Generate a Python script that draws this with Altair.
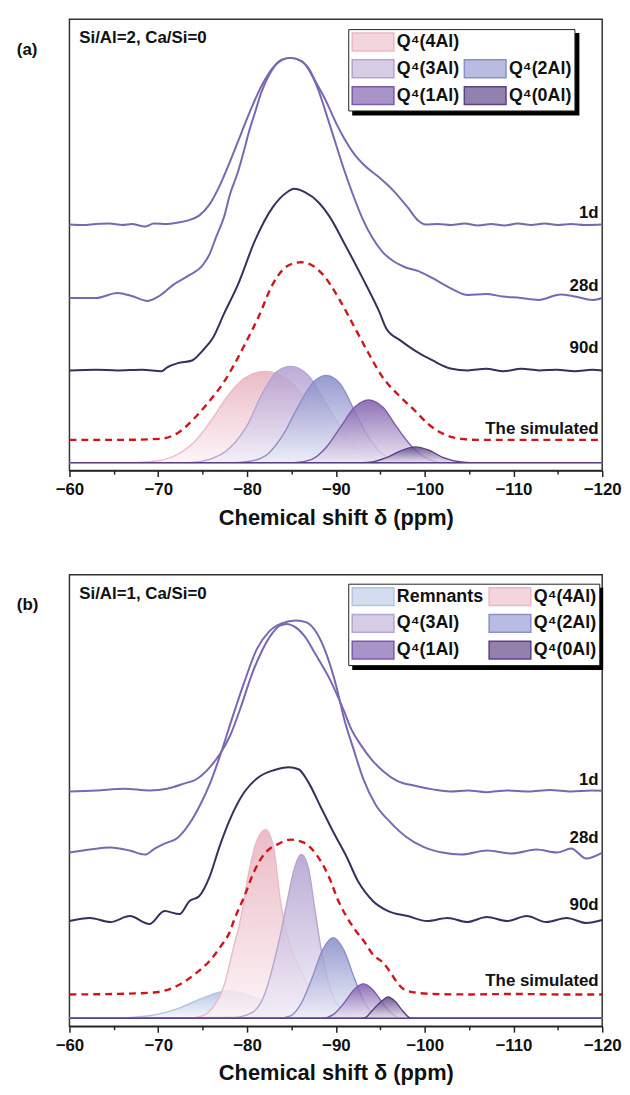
import altair as alt
import pandas as pd

FONT = "Liberation Sans"

# ---------------- (a) Si/Al=2, Ca/Si=0 ----------------
A_1D_PPM = [-60, -61.5, -63, -64.5, -66, -67, -68.5, -69.5, -71, -72.2, -73.3, -74.6, -75.8, -77, -78.1,
            -79.3, -80.5, -81.7, -82.9, -83.9, -84.9, -86.1, -86.9, -87.7, -88.9, -90.1, -90.9, -92.1,
            -93.3, -94.9, -96.5, -98.1, -99.3, -100.1, -101.5, -103, -104.5, -106, -107.5, -109, -110.5,
            -112, -113.5, -115, -116.5, -118, -120]
A_1D_INT = [248, 247.5, 248.5, 249, 247.5, 248.5, 246, 249, 248.5, 250, 252, 257, 268.6, 288.7, 312,
            339, 365.7, 389, 406, 414.3, 416, 412.6, 406, 392.5, 372.4, 349, 335.6, 318.8,
            307, 295.4, 282, 265.2, 251.8, 248, 248.5, 247.5, 249, 247, 248.5, 247, 249,
            247.5, 249, 247.5, 248.5, 247.5, 248]

A_28D_PPM = [-60, -63, -65.4, -67, -68.8, -70.2, -71.8, -73.4, -75, -75.8, -76.5, -77.4, -78.1, -78.9,
             -79.7, -80.2, -80.9, -81.6, -82.5, -83.6, -84.9, -86.1, -87.7, -89.3, -90.9, -92.1, -93,
             -94.1, -95.3, -96.5, -97.8, -99.3, -100.9, -102.9, -104.9, -106.9, -108.8, -110.8, -112.8,
             -115.3, -116.9, -118.9, -120]
A_28D_INT = [174, 174, 179, 176, 171, 176.5, 188, 196.5, 207, 218.5, 235, 255.5, 279, 299,
             324, 341, 361, 381, 399, 412, 416, 413, 391, 349, 304, 274, 254,
             235, 220, 211, 205, 201, 194, 184, 177, 178, 175.5, 174, 172,
             177.5, 175.5, 172, 174]

A_90D_PPM = [-60, -63, -65.4, -68.2, -70.4, -71, -72.2, -73.8, -75, -76.2, -77.4, -79, -80.9, -82.9,
             -84.5, -85.3, -86.5, -88.1, -89.3, -90.9, -92.9, -94.9, -95.7, -97.3, -98.9, -100.9,
             -102.9, -104.9, -106.9, -108.9, -110.9, -112.9, -114.9, -116.9, -118.9, -120]
A_90D_INT = [101, 101.6, 101, 101.6, 100.2, 104, 108.3, 111, 121, 134.5, 158, 188, 232, 265.5,
             280.6, 284, 280.6, 270, 256, 230, 196, 160, 143, 131, 121, 111,
             103, 101, 102.6, 100.2, 102.6, 101, 101.6, 100.2, 101.6, 101]

A_SIM_PPM = [-60, -65.7, -70.2, -72.2, -74.2, -75.8, -77.3, -78.5, -79.8, -81.3, -82.9, -84.7, -86.1,
             -87.5, -88.5, -90.5, -92.1, -93.7, -95.2, -97.3, -98.9, -100.4, -102.1, -104.1, -105.9, -120]
A_SIM_INT = [31, 31, 32, 38, 54, 70.5, 88, 106, 128, 155, 188, 207, 210,
             206, 198, 171, 144.5, 118, 95, 74, 60.4, 47, 37, 32, 31, 31]

A_Q4_4AL_PPM = [-60, -67, -69.8, -72.2, -74.2, -76.2, -77.8, -79.7, -82.1, -84.5, -86.1, -87.7, -89.3,
                -90.9, -92.9, -94.9, -120]
A_Q4_4AL_INT = [8, 8, 9.7, 16.5, 30, 53.6, 75, 93, 100, 92, 78, 56, 36.7, 21.5, 11.4, 8, 8]
A_Q4_3AL_PPM = [-60, -73.4, -75.8, -78.1, -80.1, -81.7, -83.3, -84.9, -86.9, -88.5, -90.1, -91.7,
                -93.7, -95.7, -120]
A_Q4_3AL_INT = [8, 8, 11.4, 23.2, 46.9, 77.3, 99.3, 105, 95.9, 73.9, 50.2, 30, 14.8, 8, 8]
A_Q4_2AL_PPM = [-60, -78.5, -80.5, -82.5, -84.1, -85.7, -87.3, -88.9, -90.5, -92.1, -93.7, -95.3,
                -97.3, -99.3, -120]
A_Q4_2AL_INT = [8, 8, 9.7, 18.1, 36.7, 63.8, 87.4, 95.9, 87.4, 60.4, 33.4, 16.5, 9.7, 8, 8]
A_Q4_1AL_PPM = [-60, -85.3, -87.3, -88.9, -90.5, -92.1, -93.7, -95.3, -96.9, -98.5, -100.1, -102.1, -120]
A_Q4_1AL_INT = [8, 8, 11.4, 23.2, 43.5, 63.8, 71.2, 63.8, 43.5, 24.9, 13.1, 8, 8]
A_Q4_0AL_PPM = [-60, -93, -94.1, -95.7, -97.3, -98.9, -100.5, -102.1, -104.1, -105.3, -120]
A_Q4_0AL_INT = [8, 8, 8.7, 13.1, 19.8, 23.9, 20.5, 13.1, 8.7, 8, 8]

# ---------------- (b) Si/Al=1, Ca/Si=0 ----------------
B_1D_PPM = [-60, -63, -66.2, -69, -71, -73, -74.2, -75.8, -77, -78.1, -79.3, -80.5, -81.7, -82.9, -83.7,
            -84.5, -85.3, -86.5, -87.7, -89.3, -90.9, -91.7, -92.9, -94.1, -95.3, -96.9, -98.9, -100.9,
            -102.9, -104.9, -106.9, -109.3, -111.7, -114.1, -116.5, -118.8, -120]
B_1D_INT = [236.6, 237.6, 239.4, 237.6, 239.4, 244.8, 248.4, 260.9, 275.1, 293, 321.6, 353.7, 378.7,
            396.6, 403.7, 405.5, 403, 393, 375.1, 350.1, 318, 300.1, 282.3, 268, 257.3, 247.3, 242.3,
            238.7, 236.6, 237.6, 235.9, 237.6, 236.6, 238, 236.6, 237.6, 237.3]

B_28D_PPM = [-60, -62.3, -64.6, -66.8, -68.5, -69.6, -70.7, -72.2, -73.5, -74.6, -75.8, -76.9, -78.2,
             -79.7, -81.1, -82.5, -83.9, -85.5, -86.7, -87.8, -88.9, -90.1, -90.9, -92, -93.1, -94.5,
             -96.1, -97.9, -99.8, -102, -104.2, -107, -109.8, -112.6, -114.9, -116.5, -118.2, -120]
B_28D_INT = [175, 178, 180, 177, 173, 179, 184, 190, 204, 221, 244, 271, 307,
             347, 380, 398, 406, 409, 407, 397, 376, 341, 311, 279, 249, 223,
             206, 191, 181, 175, 173, 177, 174, 178, 175, 179, 169, 175]

B_90D_PPM = [-60, -62.3, -64.6, -66.8, -69, -70.7, -72.4, -73.5, -74.6, -75.8, -76.9, -78.2, -79.7,
             -81.3, -83, -84.7, -85.8, -86.9, -88.3, -89.7, -91.2, -92.5, -94.2, -95.9, -98.1, -100.3,
             -102.6, -104.8, -107, -109.3, -111.5, -113.7, -116, -118.2, -120]
B_90D_INT = [106, 109, 105, 111, 103, 116, 113, 126, 131, 151, 181, 211, 236,
             251, 258, 261, 259, 246, 221, 196, 171, 146, 126, 116, 111, 106,
             109, 105, 110, 106, 111, 105, 109, 104, 107]

B_SIM_PPM = [-60, -65, -69.5, -72.2, -74.2, -75.8, -77, -78.1, -78.5, -79.7, -80.8, -81.9, -83.6, -84.9,
             -86.4, -87.8, -89.2, -90.3, -91.3, -92.1, -93.3, -94.1, -95.3, -96.1, -96.9, -97.7, -98.9,
             -101, -105, -110, -115, -120]
B_SIM_INT = [32, 32.5, 34, 41, 53, 66, 80, 96, 106, 131, 156, 173, 184, 188,
             185, 173, 151, 126, 109, 98, 84, 73, 64, 55, 44, 37, 34,
             32.5, 32, 32.5, 32, 32]

B_REM_PPM = [-60, -65, -69, -72.2, -75, -77.8, -80.6, -82.9, -85.3, -87.7, -120]
B_REM_INT = [8, 8, 10.5, 17.7, 28.3, 35.5, 30.1, 21.2, 12.3, 8, 8]
B_Q4_4AL_PPM = [-60, -73.5, -75, -76.2, -77.4, -78.5, -79.3, -80.2, -81.1, -82.1, -83, -83.7, -84.3,
                -84.9, -85.7, -86.5, -87.7, -89.3, -90.9, -120]
B_Q4_4AL_INT = [8, 8, 10.5, 19.4, 40.8, 80, 109, 155, 187, 198, 180, 130, 100, 80, 62, 48, 27, 12.3, 8, 8]
B_Q4_3AL_PPM = [-60, -78.5, -80.6, -82.1, -82.9, -83.7, -84.5, -85.3, -86.1, -86.9, -87.6, -88.3, -89,
                -89.7, -91.3, -92.9, -120]
B_Q4_3AL_INT = [8, 8.7, 14, 35, 60, 90, 125, 158, 173, 160, 120, 80, 50, 30, 13, 8, 8]
B_Q4_2AL_PPM = [-60, -83.5, -84.9, -86.1, -87.3, -88.5, -89.7, -90.9, -92.1, -93.3, -94.5, -95.7, -120]
B_Q4_2AL_INT = [8, 8, 10.5, 23, 48, 76.6, 89.1, 76.6, 48, 23, 10.5, 8, 8]
B_Q4_1AL_PPM = [-60, -88.5, -89.7, -90.9, -92.1, -93.1, -94.1, -95.3, -96.5, -97.3, -120]
B_Q4_1AL_INT = [8, 8, 11.6, 23, 37.3, 42.6, 37.3, 23, 11.6, 8, 8]
B_Q4_0AL_PPM = [-60, -92.5, -93.3, -94.1, -95.1, -95.9, -96.7, -97.5, -98.3, -99, -120]
B_Q4_0AL_INT = [8, 8, 8.7, 15.8, 24.8, 29.4, 24.8, 15.8, 8.7, 8, 8]

MAJOR_TICKS = [-60, -70, -80, -90, -100, -110, -120]
MINOR_TICKS = [-65, -75, -85, -95, -105, -115]

COMP_BASE = 8          # baseline of the deconvolved components
BLANK = " "            # empty legend cell

# name: (gradient top, gradient bottom, outline, legend swatch)
COMP_STYLE = {
    "Remnants": ("#a7bbdf", "#f3f6fb", "#b3c4e3", "#d3ddef"),
    "Q⁴(4Al)": ("#e6adbb", "#fcf2f5", "#ebb9c4", "#f3d6dd"),
    "Q⁴(3Al)": ("#ad9acd", "#f2eef8", "#b5a5d2", "#d6cce6"),
    "Q⁴(2Al)": ("#8186c4", "#eceef8", "#8a8fc9", "#b9bce0"),
    "Q⁴(1Al)": ("#7652a5", "#ebe4f2", "#7b5bab", "#a994c9"),
    "Q⁴(0Al)": ("#553a7f", "#e4deec", "#5c4187", "#9281ad"),
    BLANK: ("transparent", "transparent", "transparent", "transparent"),
}

LINE_LIGHT = "#7a67b2"
LINE_DARK = "#3b2d5d"
SIM_RED = "#d0141a"

X_SCALE = alt.Scale(domain=[-120, -60], reverse=True, nice=False, zero=False)
Y_SCALE = alt.Scale(domain=[0, 455], nice=False, zero=False)
W, H = 537, 455


def df(ppm, inten, **extra):
    d = pd.DataFrame({"ppm": ppm, "int": inten})
    for k, v in extra.items():
        d[k] = v
    return d


def x_enc(axis=None):
    return alt.X("ppm:Q", scale=X_SCALE, axis=axis)


def y_enc():
    return alt.Y("int:Q", scale=Y_SCALE, axis=None, stack=None)


major_axis = alt.Axis(values=MAJOR_TICKS, orient="bottom", tickSize=6, tickWidth=1.5, tickColor="#222",
                      domainColor="#222", domainWidth=1.5, labelFontSize=17, labelFontWeight="bold",
                      labelColor="#111", labelPadding=5, labelFlush=False, grid=False,
                      title="Chemical shift δ (ppm)", titleFontSize=22, titleFontWeight="bold",
                      titleColor="#111", titlePadding=10)
minor_axis = alt.Axis(values=MINOR_TICKS, orient="bottom", tickSize=3.5, tickWidth=1.5, tickColor="#222",
                      labels=False, domain=False, grid=False, title=None)


def component(name, ppm, inten):
    top, bottom, line, _ = COMP_STYLE[name]
    grad = alt.Gradient(gradient="linear",
                        stops=[alt.GradientStop(color=top, offset=0),
                               alt.GradientStop(color=bottom, offset=1)],
                        x1=0, x2=0, y1=0, y2=1)
    return alt.Chart(df(ppm, inten)).mark_area(
        interpolate="monotone", fill=grad, fillOpacity=0.82, stroke=line, strokeWidth=1.4
    ).encode(x=x_enc(), y=y_enc(), y2=alt.datum(COMP_BASE))


def spectrum(ppm, inten, color, dash=None, width=2.0):
    kw = dict(interpolate="monotone", color=color, strokeWidth=width)
    if dash:
        kw["strokeDash"] = dash
    return alt.Chart(df(ppm, inten)).mark_line(**kw).encode(x=x_enc(), y=y_enc())


def panel(tag, condition, comps, order, legend_pos, legend_box, lines, labels):
    # deconvolved components, each filled with its own vertical gradient
    layers = [component(n, p, i) for n, p, i in comps]

    # legend carrier: same components, invisible, colours through scales
    # (entries fill the two legend columns top to bottom)
    long = pd.concat([df(p, i, comp=n) for n, p, i in comps], ignore_index=True)
    leg = alt.Legend(title=None, orient="none", legendX=legend_pos[0], legendY=legend_pos[1], columns=2,
                     symbolType="M-1,-1H3.67V1H-1Z", symbolSize=324, symbolStrokeWidth=1.5,
                     symbolOpacity=1, labelFont=FONT, labelFontSize=18, labelFontWeight="bold",
                     labelColor="#111", labelOffset=26, columnPadding=2, rowPadding=3, padding=3,
                     strokeColor="#222", fillColor="white", zindex=2)
    layers.append(
        alt.Chart(long).mark_area(interpolate="monotone", opacity=0).encode(
            x=x_enc(), y=y_enc(), y2=alt.datum(COMP_BASE),
            fill=alt.Fill("comp:N", scale=alt.Scale(domain=order, range=[COMP_STYLE[n][3] for n in order]),
                          legend=leg),
            stroke=alt.Stroke("comp:N", scale=alt.Scale(domain=order, range=[COMP_STYLE[n][2] for n in order]),
                              legend=leg),
        )
    )

    # drop shadow of the legend frame: a single black block offset down-right
    # (legend only; the carrier layer draws no marks)
    bw, bh = legend_box
    shadow_path = f"M-1,-1H1V{-1 + 2 * bh / bw:.4f}H-1Z"
    shadow_leg = alt.Legend(title=None, orient="none", legendX=legend_pos[0] + 4, legendY=legend_pos[1] + 4,
                            symbolSize=bw * bw, symbolFillColor="#000", symbolStrokeColor="#000",
                            symbolStrokeWidth=0, symbolOpacity=1, labelExpr="''", labelOffset=0,
                            padding=0, zindex=1)
    layers.append(
        alt.Chart(long).transform_filter("false").transform_calculate(box="'frame'").mark_point(
            filled=True, color="#000", opacity=0, size=bw * bw
        ).encode(
            x=x_enc(), y=y_enc(),
            shape=alt.Shape("box:N", scale=alt.Scale(domain=["frame"], range=[shadow_path]), legend=shadow_leg),
        )
    )

    # measured spectra and the simulated envelope
    layers += lines

    # axes: major ticks with labels, minor ticks without
    layers.append(alt.Chart(df([-60, -120], [0, 0])).mark_point(opacity=0).encode(
        x=x_enc(major_axis), y=y_enc()))
    layers.append(alt.Chart(df([-60, -120], [0, 0])).mark_point(opacity=0).encode(
        x=x_enc(minor_axis), y=y_enc()))

    # series labels
    lab = pd.DataFrame(labels, columns=["ppm", "int", "text"])
    layers.append(alt.Chart(lab).mark_text(align="right", baseline="middle", font=FONT, fontSize=17,
                                           fontWeight="bold", color="#111").encode(
        x=x_enc(), y=y_enc(), text="text:N"))

    # sample composition
    layers.append(alt.Chart(pd.DataFrame({"ppm": [-61.1], "int": [436], "text": [condition]})).mark_text(
        align="left", baseline="middle", font=FONT, fontSize=17, fontWeight="bold", color="#111").encode(
        x=x_enc(), y=y_enc(), text="text:N"))

    # panel tag
    layers.append(alt.Chart(pd.DataFrame({"text": [tag]})).mark_text(
        align="left", baseline="middle", font=FONT, fontSize=17, fontWeight="bold", color="#111").encode(
        x=alt.value(-53), y=alt.value(31), text="text:N"))

    return alt.layer(*layers).resolve_axis(x="independent").properties(width=W, height=H)


panel_a = panel(
    "(a)", "Si/Al=2, Ca/Si=0",
    [("Q⁴(4Al)", A_Q4_4AL_PPM, A_Q4_4AL_INT),
     ("Q⁴(3Al)", A_Q4_3AL_PPM, A_Q4_3AL_INT),
     ("Q⁴(2Al)", A_Q4_2AL_PPM, A_Q4_2AL_INT),
     ("Q⁴(1Al)", A_Q4_1AL_PPM, A_Q4_1AL_INT),
     ("Q⁴(0Al)", A_Q4_0AL_PPM, A_Q4_0AL_INT)],
    ["Q⁴(4Al)", "Q⁴(3Al)", "Q⁴(1Al)", BLANK, "Q⁴(2Al)", "Q⁴(0Al)"],
    (281, 10), (229, 83),
    [spectrum(A_1D_PPM, A_1D_INT, LINE_LIGHT),
     spectrum(A_28D_PPM, A_28D_INT, LINE_LIGHT),
     spectrum(A_90D_PPM, A_90D_INT, LINE_DARK),
     spectrum(A_SIM_PPM, A_SIM_INT, SIM_RED, dash=[7, 5], width=2.4)],
    [(-119.6, 260, "1d"), (-119.6, 186, "28d"), (-119.6, 124, "90d"), (-119.6, 42, "The simulated")],
)

panel_b = panel(
    "(b)", "Si/Al=1, Ca/Si=0",
    [("Remnants", B_REM_PPM, B_REM_INT),
     ("Q⁴(4Al)", B_Q4_4AL_PPM, B_Q4_4AL_INT),
     ("Q⁴(3Al)", B_Q4_3AL_PPM, B_Q4_3AL_INT),
     ("Q⁴(2Al)", B_Q4_2AL_PPM, B_Q4_2AL_INT),
     ("Q⁴(1Al)", B_Q4_1AL_PPM, B_Q4_1AL_INT),
     ("Q⁴(0Al)", B_Q4_0AL_PPM, B_Q4_0AL_INT)],
    ["Remnants", "Q⁴(3Al)", "Q⁴(1Al)", "Q⁴(4Al)", "Q⁴(2Al)", "Q⁴(0Al)"],
    (281, 9), (253, 83),
    [spectrum(B_1D_PPM, B_1D_INT, LINE_LIGHT),
     spectrum(B_28D_PPM, B_28D_INT, LINE_LIGHT),
     spectrum(B_90D_PPM, B_90D_INT, LINE_DARK),
     spectrum(B_SIM_PPM, B_SIM_INT, SIM_RED, dash=[7, 5], width=2.4)],
    [(-119.6, 248, "1d"), (-119.6, 190, "28d"), (-119.6, 122, "90d"), (-119.6, 46, "The simulated")],
)

chart = alt.vconcat(panel_a, panel_b, spacing=45).resolve_scale(
    fill="independent", stroke="independent", shape="independent"
).resolve_legend(fill="independent", stroke="independent", shape="independent").properties(
    padding={"left": 16, "top": 14, "right": 8, "bottom": 4}
).configure_view(stroke="#333", strokeWidth=1.5).configure_text(font=FONT).configure_axis(
    labelFont=FONT, titleFont=FONT
)

chart.save("out.html", embed_options={"renderer": "svg", "actions": False})
